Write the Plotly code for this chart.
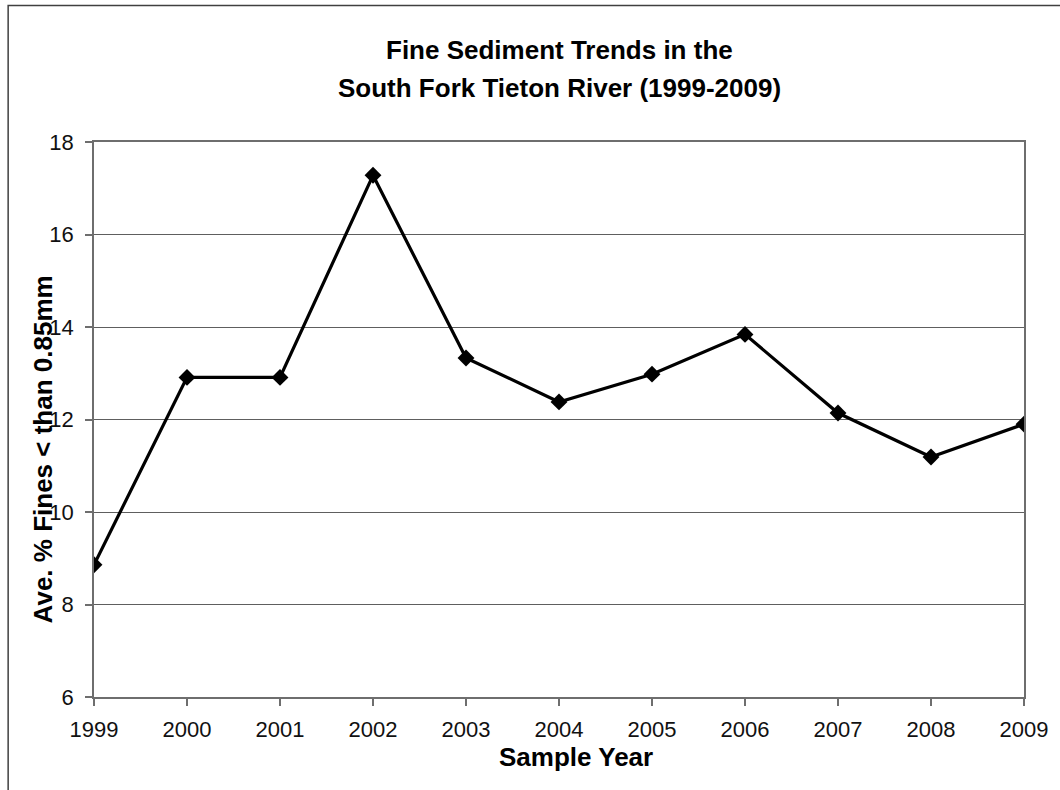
import plotly.graph_objects as go

# Sample years and average percent fines (< 0.85 mm)
years = [1999, 2000, 2001, 2002, 2003, 2004, 2005, 2006, 2007, 2008, 2009]
fines_pct = [8.86, 12.91, 12.91, 17.28, 13.33, 12.38, 12.98, 13.84, 12.14, 11.19, 11.90]
y_ticks = [6, 8, 10, 12, 14, 16, 18]

title_lines = ["Fine Sediment Trends in the", "South Fork Tieton River (1999-2009)"]
x_title = "Sample Year"
y_title = "Ave. % Fines < than 0.85mm"

W, H = 1060, 790
L, R, T, B = 94, 29, 142, 93
pw, ph = W - L - R, H - T - B

font_family = "Liberation Sans, Arial, sans-serif"

fig = go.Figure()
fig.add_trace(go.Scatter(
    x=years, y=fines_pct, mode="lines+markers",
    line=dict(color="black", width=3.2),
    marker=dict(symbol="diamond", size=13, color="black"),
    showlegend=False, hoverinfo="x+y",
))

axis_gray = "#6e6e6e"
fig.update_layout(
    width=W, height=H,
    margin=dict(l=L, r=R, t=T, b=B),
    paper_bgcolor="white", plot_bgcolor="white",
    font=dict(family=font_family, color="black"),
    xaxis=dict(
        range=[1999, 2009], tickvals=years, ticktext=[str(y) for y in years],
        showgrid=False, zeroline=False,
        showline=True, linecolor=axis_gray, linewidth=1.5, mirror=True,
        ticks="outside", ticklen=7, tickcolor=axis_gray, tickwidth=1.5,
        tickfont=dict(size=22, family=font_family, color="#111111"),
        ticklabelstandoff=5,
    ),
    yaxis=dict(
        range=[6, 18], tickvals=y_ticks,
        showgrid=True, gridcolor="#5e5e5e", gridwidth=1.3, zeroline=False,
        showline=True, linecolor=axis_gray, linewidth=1.5, mirror=True,
        ticks="outside", ticklen=7, tickcolor=axis_gray, tickwidth=1.5,
        tickfont=dict(size=22, family=font_family, color="#111111"),
        ticklabelstandoff=7,
    ),
)

# Chart title (two lines)
fig.add_annotation(text=f"<b>{title_lines[0]}</b>", xref="paper", yref="paper",
                   x=0.5, y=1 + (T - 50) / ph, xanchor="center", yanchor="middle",
                   showarrow=False, font=dict(size=26, family=font_family, color="black"))
fig.add_annotation(text=f"<b>{title_lines[1]}</b>", xref="paper", yref="paper",
                   x=0.5, y=1 + (T - 88) / ph, xanchor="center", yanchor="middle",
                   showarrow=False, font=dict(size=26, family=font_family, color="black"))

# Axis titles
fig.add_annotation(text=f"<b>{x_title}</b>", xref="paper", yref="paper",
                   x=(580 - L) / pw, y=-(757 - (T + ph)) / ph,
                   xanchor="center", yanchor="middle", showarrow=False,
                   font=dict(size=26, family=font_family, color="black"))
fig.add_annotation(text=f"<b>{y_title}</b>", xref="paper", yref="paper",
                   x=(43 - L) / pw, y=1 - (449 - T) / ph, textangle=-90,
                   xanchor="center", yanchor="middle", showarrow=False,
                   font=dict(size=26, family=font_family, color="black"))

# Outer chart frame
fig.add_shape(type="rect", xref="paper", yref="paper",
              x0=(7.5 - L) / pw, x1=(W + 20 - L) / pw,
              y0=-(H + 20 - T - ph) / ph, y1=1 + (T - 5.5) / ph,
              line=dict(color="#404040", width=1.5), fillcolor="rgba(0,0,0,0)",
              layer="below")

fig.write_html("out.html")
